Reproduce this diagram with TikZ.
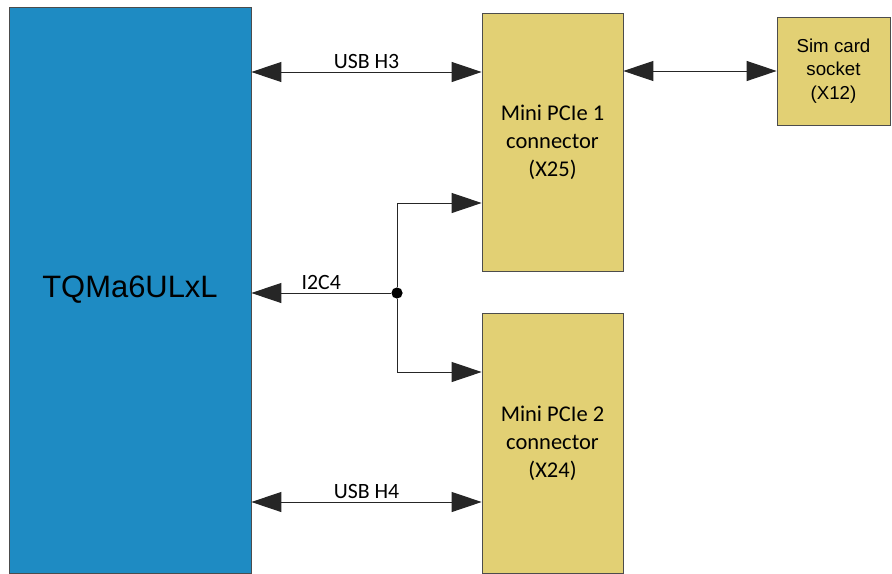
\documentclass[tikz,border=0pt]{standalone}
\usepackage{fontspec}
\setmainfont{Carlito}
\newfontfamily\arialfont{Liberation Sans}
\usetikzlibrary{arrows.meta}

\definecolor{modblue}{HTML}{1E8BC3}
\definecolor{connyellow}{HTML}{E2D074}

\begin{document}
\begin{tikzpicture}[%
    x=0.025cm,
    y=-0.025cm,
    module/.style={%
        draw=black!70,
        fill=modblue,
        line width=0.5pt,
        minimum width=6.05cm,
        minimum height=14.15cm,
        font=\arialfont\fontsize{22}{26}\selectfont
    },
    conn/.style={%
        draw=black!70,
        fill=connyellow,
        line width=0.5pt,
        minimum width=3.525cm,
        align=center,
        font=\fontsize{16}{20}\selectfont
    },
    sim/.style={%
        draw=black!70,
        fill=connyellow,
        line width=0.5pt,
        minimum width=2.825cm,
        minimum height=2.7cm,
        align=center,
        font=\arialfont\fontsize{13.3}{16.7}\selectfont
    },
    link/.style={%
        draw=black!85,
        line width=0.7pt
    },
    lbl/.style={%
        font=\fontsize{15.5}{18}\selectfont,
        inner sep=2pt
    },
    dot/.style={%
        circle,
        fill=black,
        inner sep=0pt,
        minimum size=0.28cm
    },
    >={Triangle[length=7.5mm,width=5mm]}
]
\useasboundingbox (0,0) rectangle (892,573);

% Blocks
\node[module] (tq) at (130,290) {TQMa6ULxL};
\node[conn, minimum height=6.45cm] (pcie1) at (552.5,142) {Mini PCIe 1\\connector\\(X25)};
\node[conn, minimum height=6.5cm] (pcie2) at (552.5,443) {Mini PCIe 2\\connector\\(X24)};
\node[sim] (simcard) at (833.5,71) {Sim card\\socket\\(X12)};

% Helper rows
\coordinate (usbh3) at (0,72);
\coordinate (usbh4) at (0,502);
\coordinate (i2cup) at (0,203);
\coordinate (i2cdn) at (0,372);
\node[dot] (split) at (397,293) {};

% USB
\draw[link, <->] (tq.east |- usbh3) -- (pcie1.west |- usbh3)
    node[lbl, midway, above] {USB H3};
\draw[link, <->] (tq.east |- usbh4) -- (pcie2.west |- usbh4)
    node[lbl, midway, above] {USB H4};

% Sim card
\draw[link, <->] (pcie1.east |- simcard.west) -- (simcard.west);

% I2C
\draw[link, ->] (split) -- (tq.east |- split)
    node[lbl, midway, above] {I2C4};
\draw[link, ->] (split) |- (pcie1.west |- i2cup);
\draw[link, ->] (split) |- (pcie2.west |- i2cdn);

\end{tikzpicture}
\end{document}
